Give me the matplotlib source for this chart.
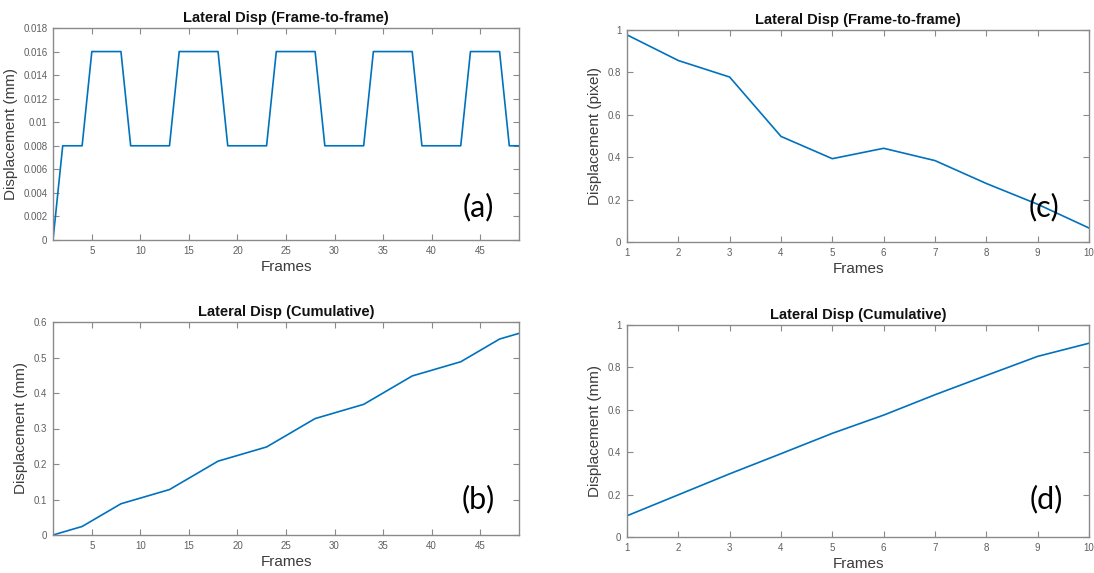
import matplotlib
matplotlib.use("Agg")
import matplotlib.pyplot as plt
import numpy as np

# ---- data -------------------------------------------------------------
frames_long = list(range(1, 50))
lateral_f2f_mm = [0.000, 0.008, 0.008, 0.008, 0.016, 0.016, 0.016, 0.016,
                  0.008, 0.008, 0.008, 0.008, 0.008, 0.016, 0.016, 0.016,
                  0.016, 0.016, 0.008, 0.008, 0.008, 0.008, 0.008, 0.016,
                  0.016, 0.016, 0.016, 0.016, 0.008, 0.008, 0.008, 0.008,
                  0.008, 0.016, 0.016, 0.016, 0.016, 0.016, 0.008, 0.008,
                  0.008, 0.008, 0.008, 0.016, 0.016, 0.016, 0.016, 0.008,
                  0.008]
lateral_cum_mm = [0.000, 0.008, 0.016, 0.024, 0.040, 0.056, 0.072, 0.088,
                  0.096, 0.104, 0.112, 0.120, 0.128, 0.144, 0.160, 0.176,
                  0.192, 0.208, 0.216, 0.224, 0.232, 0.240, 0.248, 0.264,
                  0.280, 0.296, 0.312, 0.328, 0.336, 0.344, 0.352, 0.360,
                  0.368, 0.384, 0.400, 0.416, 0.432, 0.448, 0.456, 0.464,
                  0.472, 0.480, 0.488, 0.504, 0.520, 0.536, 0.552, 0.560,
                  0.568]

frames_short = list(range(1, 11))
lateral_f2f_px = [0.977, 0.856, 0.778, 0.498, 0.393, 0.442, 0.384, 0.276,
                  0.178, 0.066]
lateral_cum_mm2 = [0.100, 0.199, 0.298, 0.393, 0.489, 0.575, 0.671, 0.762,
                   0.852, 0.914]

long_xticks = [5, 10, 15, 20, 25, 30, 35, 40, 45]
short_xticks = [1, 2, 3, 4, 5, 6, 7, 8, 9, 10]
f2f_mm_yticks = [0, 0.002, 0.004, 0.006, 0.008, 0.01, 0.012, 0.014, 0.016, 0.018]
cum_mm_yticks = [0, 0.1, 0.2, 0.3, 0.4, 0.5, 0.6]
unit_yticks = [0, 0.2, 0.4, 0.6, 0.8, 1]

# ---- style ------------------------------------------------------------
LINE = "#0072BD"
SPINE = "#8a8a8a"
TICKLBL = "#5f5f5f"
AXLBL = "#3c3c3c"
W, H = 1094, 573

fig = plt.figure(figsize=(W / 100, H / 100), dpi=100)
fig.patch.set_facecolor("white")


def box(l, t, r, b):
    return [l / W, 1 - b / H, (r - l) / W, (b - t) / H]


def fmt(v):
    s = ("%.3f" % v).rstrip("0").rstrip(".")
    return s if s else "0"


def style(ax, title, ylabel, x, y, xlim, ylim, xticks, yticks):
    ax.plot(x, y, color=LINE, lw=1.2)
    ax.set_xlim(*xlim)
    ax.set_ylim(*ylim)
    ax.set_xticks(xticks)
    ax.set_xticklabels([str(t) for t in xticks])
    ax.set_yticks(yticks)
    ax.set_yticklabels([fmt(t) for t in yticks])
    for s in ax.spines.values():
        s.set_color(SPINE)
        s.set_linewidth(1.0)
    ax.tick_params(direction="in", length=4, width=0.8, color=SPINE,
                   top=True, right=True, labelsize=7, labelcolor=TICKLBL,
                   pad=4)
    for lbl in ax.get_xticklabels() + ax.get_yticklabels():
        lbl.set_family("Liberation Sans")
    ax.set_title(title, fontsize=10.5, fontweight="bold", family="Liberation Sans",
                 color="#111111", pad=4)
    ax.set_xlabel("Frames", fontsize=11, color=AXLBL, family="Liberation Sans",
                  labelpad=3)
    ax.set_ylabel(ylabel, fontsize=11, color=AXLBL, family="Liberation Sans",
                  labelpad=4)


ax_a = fig.add_axes(box(53, 28, 519, 240))
style(ax_a, "Lateral Disp (Frame-to-frame)", "Displacement (mm)",
      frames_long, lateral_f2f_mm, (1, 49), (0, 0.018), long_xticks, f2f_mm_yticks)

ax_b = fig.add_axes(box(53, 322, 519, 535))
style(ax_b, "Lateral Disp (Cumulative)", "Displacement (mm)",
      frames_long, lateral_cum_mm, (1, 49), (0, 0.6), long_xticks, cum_mm_yticks)

ax_c = fig.add_axes(box(627, 30, 1089, 242))
style(ax_c, "Lateral Disp (Frame-to-frame)", "Displacement (pixel)",
      frames_short, lateral_f2f_px, (1, 10), (0, 1), short_xticks, unit_yticks)

ax_d = fig.add_axes(box(627, 325, 1089, 537))
style(ax_d, "Lateral Disp (Cumulative)", "Displacement (mm)",
      frames_short, lateral_cum_mm2, (1, 10), (0, 1), short_xticks, unit_yticks)

# panel letters
for label, (px, py) in {"(a)": (478, 207), "(b)": (478, 499),
                        "(c)": (1044, 207), "(d)": (1046, 499)}.items():
    fig.text(px / W, 1 - py / H, label, fontsize=22, family="Lato",
             color="black", ha="center", va="center", zorder=1)

fig.savefig("out.png", dpi=100)
